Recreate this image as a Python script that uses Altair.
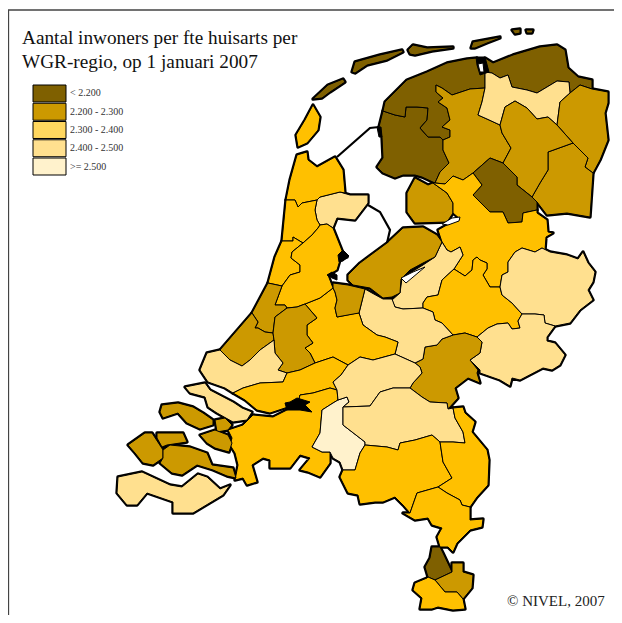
import altair as alt
import pandas as pd

KLASSEN = ["< 2.200", "2.200 - 2.300", "2.300 - 2.400", "2.400 - 2.500", ">= 2.500"]
KAART_KLEUREN = ["#7F6000", "#CC9900", "#FFC000", "#FFE08F", "#FFF2CC"]
LEGENDA_KLEUREN = ["#7F6000", "#CC9900", "#FFD75F", "#FFE08F", "#FFF2CC"]

friesland_zw = [[383,111],[395,115],[405,117],[406,107],[417,107],[428,108],[427,120],[420,128],[428,137],[440,137],[443,140],[443,150],[449,163],[440,172],[435,183],[422,177],[415,175],[403,175],[395,178],[383,173],[377,167],[383,158],[382,137],[379,127]]
friesland_n = [[383,111],[385,102],[397,90],[407,80],[427,72],[447,63],[467,59],[477,58],[485,72],[485,88],[470,89],[452,95],[442,88],[436,85],[436,92],[443,98],[438,102],[447,108],[450,120],[442,127],[450,130],[450,137],[443,140],[440,137],[428,137],[420,128],[427,120],[428,108],[417,107],[406,107],[405,117],[395,115]]
friesland_o = [[442,88],[452,95],[470,89],[485,88],[482,102],[478,115],[487,119],[500,125],[502,133],[511,148],[503,163],[490,158],[473,173],[463,180],[453,176],[445,184],[435,183],[440,172],[449,163],[443,150],[443,140],[450,137],[450,130],[442,127],[450,120],[447,108],[438,102],[443,98],[436,92],[436,85]]
groningen_n = [[485,58],[493,63],[513,55],[540,47],[557,45],[565,50],[568,68],[578,77],[592,80],[592,89],[580,85],[570,93],[569,82],[557,81],[537,93],[527,90],[512,87],[508,75],[500,78],[492,73],[485,72]]
groningen_m = [[492,73],[500,78],[508,75],[512,87],[527,90],[537,93],[557,81],[569,82],[570,93],[560,102],[557,125],[548,117],[537,119],[527,108],[515,101],[505,107],[500,125],[487,119],[478,115],[482,102],[485,88],[485,72]]
groningen_o = [[570,93],[580,85],[592,89],[608,92],[608,103],[605,113],[608,140],[600,160],[593,173],[585,167],[588,158],[573,143],[557,125],[560,102]]
drenthe_zo = [[548,152],[573,143],[588,158],[585,167],[593,173],[590,217],[567,213],[547,215],[537,202],[532,197],[540,183],[548,170]]
drenthe_n = [[515,101],[527,108],[537,119],[548,117],[557,125],[573,143],[548,152],[548,170],[540,183],[532,197],[517,185],[517,177],[503,163],[511,148],[502,133],[500,125],[505,107]]
drenthe_zw = [[490,158],[503,163],[517,177],[517,185],[532,197],[537,202],[537,210],[523,213],[522,222],[508,223],[503,212],[490,212],[473,195],[482,185],[473,173]]
noordoostpolder = [[415,178],[428,185],[433,183],[447,193],[453,203],[453,213],[447,222],[415,223],[407,212],[407,193]]
overijssel_w = [[435,183],[445,184],[453,176],[463,180],[473,173],[482,185],[473,195],[490,212],[503,212],[508,223],[522,222],[523,213],[537,210],[537,213],[547,220],[548,232],[553,233],[546,237],[545,250],[542,248],[535,252],[522,248],[515,252],[508,262],[508,272],[502,275],[500,287],[490,287],[483,275],[487,269],[487,263],[480,260],[477,257],[473,260],[472,270],[465,276],[454,269],[463,255],[460,247],[451,252],[447,250],[442,242],[438,230],[445,226],[460,219],[453,213],[453,203],[447,193],[433,183]]
veluwe_n = [[442,242],[447,250],[451,252],[460,247],[463,255],[454,269],[442,280],[438,295],[427,297],[423,303],[423,308],[403,309],[395,307],[392,300],[400,293],[402,278],[410,273],[423,265],[435,257]]
gelderland_m = [[454,269],[465,276],[472,270],[473,260],[477,257],[480,260],[487,263],[487,269],[483,275],[490,287],[500,287],[502,295],[512,303],[522,314],[518,321],[520,328],[512,329],[508,323],[497,324],[488,328],[477,337],[465,333],[453,335],[442,323],[435,320],[433,312],[423,308],[423,303],[427,297],[438,295],[442,280]]
twente = [[500,287],[502,275],[508,272],[508,262],[515,252],[522,248],[535,252],[542,248],[550,252],[567,255],[578,259],[583,252],[588,263],[595,272],[593,282],[588,290],[593,300],[580,310],[570,323],[555,326],[545,323],[544,315],[535,314],[522,314],[512,303],[502,295]]
achterhoek = [[522,314],[535,314],[544,315],[545,323],[555,326],[547,337],[547,341],[555,343],[565,355],[560,365],[552,370],[543,368],[520,380],[512,378],[510,386],[500,380],[480,373],[480,370],[470,360],[480,353],[482,342],[477,337],[488,328],[497,324],[508,323],[512,329],[520,328],[518,321]]
nijmegen = [[477,337],[482,342],[480,353],[470,360],[478,370],[477,373],[480,383],[468,378],[455,388],[458,398],[448,409],[447,403],[430,402],[422,397],[410,388],[413,383],[422,373],[420,367],[415,363],[423,359],[425,347],[437,345],[442,339],[453,335],[465,333]]
utrecht_o = [[365,289],[372,293],[383,299],[392,299],[395,307],[403,309],[423,308],[433,312],[435,320],[442,323],[453,335],[442,339],[437,345],[425,347],[423,359],[415,363],[395,354],[398,342],[385,337],[377,335],[363,325],[359,313]]
utrecht_w = [[333,288],[335,292],[337,300],[335,308],[337,317],[357,313],[359,313],[363,325],[377,335],[385,337],[398,342],[395,354],[373,360],[360,357],[348,365],[333,357],[315,363],[310,353],[305,348],[313,343],[307,335],[307,325],[317,318],[305,304],[320,298]]
gooi = [[333,283],[348,285],[365,289],[359,313],[337,317],[335,308],[337,300],[335,292],[333,288]]
flevoland = [[348,275],[360,263],[387,243],[403,228],[423,227],[437,235],[442,242],[435,257],[423,263],[410,270],[401,279],[400,293],[392,297],[383,298],[370,288],[353,285],[348,280]]
westfriesland = [[320,197],[340,192],[350,195],[368,195],[368,203],[355,220],[337,218],[333,228],[327,224],[320,225],[317,220],[315,210],[317,200]]
texel = [[296,135],[305,120],[313,105],[320,117],[318,130],[307,143],[298,147]]
kop_nh = [[297,155],[307,152],[308,160],[317,167],[335,157],[343,170],[345,193],[340,192],[320,197],[317,200],[302,203],[298,207],[295,200],[286,200],[290,180]]
nh_midden = [[286,200],[295,200],[298,207],[302,203],[317,200],[315,210],[317,220],[320,225],[318,228],[312,235],[303,243],[293,237],[293,241],[282,241]]
kennemerland = [[282,241],[293,241],[293,237],[303,243],[292,252],[291,258],[300,265],[300,272],[290,275],[282,286],[268,283],[275,257]]
amsterdam = [[320,225],[327,224],[333,228],[343,253],[347,257],[340,260],[337,270],[328,275],[333,288],[320,298],[305,304],[297,307],[287,308],[285,305],[275,305],[282,286],[290,275],[300,272],[300,265],[291,258],[292,252],[303,243],[312,235],[318,228]]
leiden = [[268,283],[282,286],[275,305],[285,305],[287,308],[275,317],[273,333],[265,332],[258,328],[255,328],[258,322],[252,313]]
denhaag = [[252,313],[258,322],[255,328],[258,328],[265,332],[273,333],[274,340],[260,350],[250,360],[242,366],[230,360],[220,350]]
gouda = [[287,308],[297,307],[305,304],[317,318],[307,325],[307,335],[313,343],[305,348],[310,353],[315,363],[300,370],[287,373],[278,370],[283,363],[275,353],[274,340],[273,333],[275,317]]
rijnmond = [[220,350],[230,360],[242,366],[250,360],[260,350],[274,340],[275,353],[283,363],[278,370],[287,373],[283,382],[260,383],[243,388],[233,393],[225,388],[208,382],[200,370],[207,353]]
rivierenland = [[233,393],[243,388],[260,383],[283,382],[287,373],[300,370],[315,363],[333,357],[348,365],[341,375],[333,382],[337,390],[330,388],[313,393],[300,395],[298,403],[285,408],[270,413],[257,410],[245,400]]
brabant_w = [[228,430],[243,425],[253,415],[273,417],[287,410],[298,403],[300,395],[313,393],[330,388],[337,390],[338,400],[333,403],[322,410],[320,433],[312,447],[322,452],[330,452],[330,463],[320,477],[308,472],[300,470],[310,458],[300,455],[290,468],[270,468],[270,460],[263,458],[252,465],[257,482],[247,485],[243,478],[235,480],[238,465],[235,453],[230,445],[232,438]]
brabant_m = [[338,400],[347,397],[349,402],[343,407],[343,425],[365,442],[365,445],[360,453],[355,470],[343,470],[340,462],[333,458],[330,452],[322,452],[312,447],[320,433],[322,410],[333,403]]
denbosch = [[348,365],[360,357],[373,360],[395,354],[415,363],[420,367],[422,373],[413,383],[410,388],[393,388],[380,392],[370,406],[343,407],[349,402],[347,397],[338,400],[337,390],[333,382],[341,375]]
eindhoven = [[343,407],[370,406],[380,392],[393,388],[410,388],[422,397],[430,402],[447,403],[448,409],[453,408],[455,418],[463,432],[465,443],[453,442],[440,442],[432,435],[415,440],[400,443],[398,450],[387,447],[365,445],[365,442],[343,425]]
peel = [[365,445],[387,447],[398,450],[400,443],[415,440],[432,435],[440,442],[443,462],[452,478],[438,487],[417,493],[410,513],[403,505],[395,497],[383,502],[375,502],[360,504],[358,495],[348,493],[340,477],[343,470],[355,470],[360,453]]
limburg_n = [[453,408],[463,407],[465,413],[475,422],[472,432],[487,450],[489,460],[488,485],[477,497],[470,507],[462,505],[460,500],[447,493],[438,487],[452,478],[443,462],[440,442],[453,442],[465,443],[463,432],[455,418]]
limburg_m = [[417,493],[438,487],[447,493],[460,500],[462,505],[470,507],[470,520],[483,519],[482,527],[470,530],[457,543],[453,552],[448,547],[440,547],[437,537],[442,528],[432,525],[428,518],[415,520],[403,513],[410,513]]
limburg_wz = [[432,547],[440,547],[443,553],[452,572],[435,580],[428,577],[425,567],[430,558]]
limburg_oz = [[452,563],[463,563],[463,572],[473,575],[472,588],[463,599],[457,592],[445,592],[435,580],[452,572]]
limburg_z = [[428,577],[435,580],[445,592],[457,592],[463,599],[465,609],[453,610],[438,607],[432,609],[420,609],[422,598],[413,590],[415,583],[427,578]]
schouwen = [[162,405],[178,403],[193,407],[203,413],[213,420],[213,425],[200,429],[187,423],[178,413],[163,418],[160,412]]
goeree = [[185,387],[205,383],[210,390],[233,402],[242,408],[252,412],[247,420],[233,422],[217,413],[208,407],[205,397],[190,393]]
tholen = [[215,420],[225,418],[232,425],[228,430],[217,432]]
bevelanden_o = [[200,435],[215,430],[228,435],[232,443],[229,452],[215,448],[207,443]]
walcheren = [[128,445],[145,433],[152,433],[163,450],[163,458],[153,465],[143,463],[135,453]]
noord_beveland = [[157,433],[183,433],[187,442],[167,445],[162,447],[157,438]]
zuid_beveland = [[163,450],[170,445],[190,447],[207,453],[212,465],[233,468],[236,478],[227,476],[213,470],[197,465],[182,475],[172,473],[160,463],[163,458]]
zvlaanderen = [[118,477],[142,472],[170,485],[182,487],[198,474],[207,477],[220,489],[230,485],[223,495],[193,513],[173,513],[173,502],[147,493],[137,505],[127,505],[117,493]]
vlieland = [[313,99],[328,85],[343,79],[345,82],[330,92],[322,98]]
terschelling = [[352,72],[355,62],[380,55],[402,50],[403,52],[387,60],[367,65],[355,73]]
ameland = [[408,50],[413,45],[427,48],[453,47],[453,48],[432,51],[415,55],[410,54]]
schiermonnikoog = [[471,48],[473,42],[500,37],[500,38],[487,43],[475,48]]
rottum_w = [[512,30],[520,29],[520,33],[515,34]]
rottum_o = [[526,30],[533,30],[532,33],[527,33]]

REGIOS = [
    (friesland_zw, 0), (friesland_n, 0), (friesland_o, 1), (groningen_n, 0), (groningen_m, 3),
    (groningen_o, 1), (drenthe_zo, 1), (drenthe_n, 1), (drenthe_zw, 0), (noordoostpolder, 1),
    (overijssel_w, 2), (veluwe_n, 3), (gelderland_m, 2), (twente, 3), (achterhoek, 3),
    (nijmegen, 1), (utrecht_o, 3), (utrecht_w, 2), (gooi, 1), (flevoland, 1),
    (westfriesland, 3), (texel, 2), (kop_nh, 2), (nh_midden, 2), (kennemerland, 2),
    (amsterdam, 2), (leiden, 1), (denhaag, 1), (gouda, 1), (rijnmond, 3), (rivierenland, 2),
    (brabant_w, 2), (brabant_m, 4), (denbosch, 3), (eindhoven, 3), (peel, 2), (limburg_n, 2),
    (limburg_m, 2), (limburg_wz, 0), (limburg_oz, 1), (limburg_z, 2), (schouwen, 1),
    (goeree, 3), (tholen, 1), (bevelanden_o, 1), (walcheren, 1), (noord_beveland, 1),
    (zuid_beveland, 1), (zvlaanderen, 3), (vlieland, 0), (terschelling, 0), (ameland, 0),
    (schiermonnikoog, 0), (rottum_w, 0), (rottum_o, 0),
]

zwart_lauwers = [[476,57],[485,57],[489,72],[480,75],[477,65]]
zwart_biesbosch = [[285,403],[290,402],[297,398],[310,402],[305,405],[312,412],[300,410],[287,410]]
zwart_muiden = [[338,255],[343,250],[349,256],[343,261],[339,262]]
zwart_ijmond = [[327,275],[332,272],[337,275],[337,280],[332,278]]
zwart_makkum = [[377,127],[381,127],[382,137],[379,137]]
ZWART = [zwart_lauwers, zwart_biesbosch, zwart_muiden, zwart_ijmond, zwart_makkum]

water_lauwers = [[478,64],[483,63],[484,72],[480,72]]
water_veluwe = [[401,278],[406,283],[425,267],[413,272]]
water_ketel = [[442,224],[448,225],[459,221],[460,217],[452,218]]
WATER = [water_lauwers, water_veluwe, water_ketel]

afsluitdijk = [[337,157],[370,128],[379,127]]
houtribdijk = [[368,205],[380,212],[390,230],[387,243]]
kader = [[622,10],[8.5,10],[8.5,623]]


def vlak(ring, klasse):
    return {"type": "Feature", "properties": {"klasse": klasse},
            "geometry": {"type": "Polygon", "coordinates": [ring + [ring[0]]]}}


def lijn(pts):
    return {"type": "Feature", "properties": {},
            "geometry": {"type": "LineString", "coordinates": pts}}


land = [vlak(r, KLASSEN[k]) for r, k in REGIOS]
projectie = dict(type="identity", scale=1, translate=[-8, -8])
kleur = alt.Color("properties.klasse:N", legend=None,
                  scale=alt.Scale(domain=KLASSEN, range=KAART_KLEUREN))

kust = alt.Chart(alt.Data(values=land)).mark_geoshape(
    stroke="black", strokeWidth=3.4, fill="black", strokeJoin="round"
).project(**projectie)
vlakken = alt.Chart(alt.Data(values=land)).mark_geoshape(
    stroke="black", strokeWidth=1, strokeJoin="round"
).encode(color=kleur).project(**projectie)
zwart = alt.Chart(alt.Data(values=[vlak(r, "z") for r in ZWART])).mark_geoshape(
    fill="black", stroke="black", strokeWidth=1).project(**projectie)
water = alt.Chart(alt.Data(values=[vlak(r, "w") for r in WATER])).mark_geoshape(
    fill="white", stroke="black", strokeWidth=1).project(**projectie)
dijken = alt.Chart(alt.Data(values=[lijn(afsluitdijk), lijn(houtribdijk)])).mark_geoshape(
    filled=False, stroke="black", strokeWidth=2.2).project(**projectie)
rand = alt.Chart(alt.Data(values=[lijn(kader)])).mark_geoshape(
    filled=False, stroke="#444444", strokeWidth=1.3).project(**projectie)

legenda_df = pd.DataFrame({"klasse": KLASSEN})
y_leg = alt.Y("klasse:N", axis=None,
              scale=alt.Scale(domain=KLASSEN, range=[77, 167], paddingInner=0.07, paddingOuter=0))
leg_vlak = alt.Chart(legenda_df).mark_rect(stroke="black", strokeWidth=1).encode(
    x=alt.value(25), x2=alt.value(58), y=y_leg,
    color=alt.Color("klasse:N", legend=None, scale=alt.Scale(domain=KLASSEN, range=LEGENDA_KLEUREN)),
)
leg_tekst = alt.Chart(legenda_df).mark_text(
    align="left", baseline="middle", font="Liberation Serif", fontSize=10, color="#333333"
).encode(x=alt.value(62), y=y_leg, text="klasse:N")

TITEL = ["Aantal inwoners per fte huisarts per", "WGR-regio, op 1 januari 2007"]
titel = alt.layer(*[
    alt.Chart(pd.DataFrame({"t": [t]})).mark_text(
        align="left", baseline="alphabetic", font="Liberation Serif", fontSize=19.25, color="#111111"
    ).encode(x=alt.value(14), y=alt.value(y), text="t:N")
    for t, y in zip(TITEL, [36, 60])
])
bron = alt.Chart(pd.DataFrame({"t": ["© NIVEL, 2007"]})).mark_text(
    align="left", baseline="alphabetic", font="Liberation Serif", fontSize=15, color="#222222"
).encode(x=alt.value(499), y=alt.value(598), text="t:N")

chart = alt.layer(kust, vlakken, zwart, water, dijken, rand, leg_vlak, leg_tekst, titel, bron).resolve_scale(
    color="independent", y="shared"
).properties(width=606, height=607, padding=0, background="white").configure_view(stroke=None)

chart.save("out.html", embed_options={"renderer": "svg", "actions": False})
